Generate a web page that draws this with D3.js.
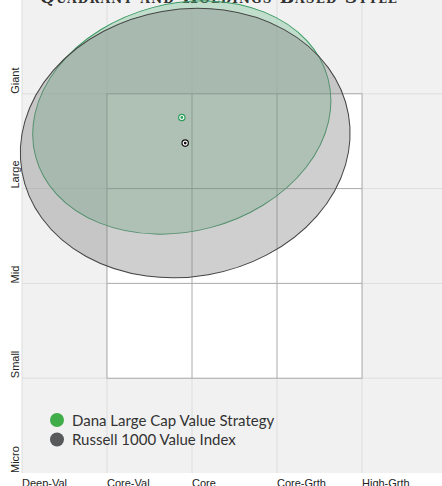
<!DOCTYPE html>
<html>
<head>
<meta charset="utf-8">
<script src="https://cdn.jsdelivr.net/npm/d3@7"></script>
<style>
  body { margin: 0; background: #fff; }
  svg { display: block; }
</style>
</head>
<body>
<div id="viz"></div>
<script>
var styleLabels = ["Deep-Val", "Core-Val", "Core", "Core-Grth", "High-Grth"];
var sizeLabels = ["Micro", "Small", "Mid", "Large", "Giant"];

var seriesNames = ["Dana Large Cap Value Strategy", "Russell 1000 Value Index"];
var seriesColors = ["#41ad49", "#58595b"];
// centroid (style, size) and dispersion ellipse (radii in axis units, tilt in degrees)
var centerStyle = [1.88, 1.92];
var centerSize = [3.75, 3.48];
var ellipseRx = [1.78, 1.95];
var ellipseRy = [1.20, 1.41];
var ellipseTilt = [-15, -10];

var width = 442, height = 486;

var svg = d3.select("#viz")
    .append("svg")
    .attr("width", width)
    .attr("height", height);

var x = d3.scaleLinear().domain([0, 5]).range([22, 447]);
var y = d3.scaleLinear().domain([0, 5]).range([473, -1]);

// plot background
svg.append("rect")
    .attr("x", x(0)).attr("y", 0)
    .attr("width", width - x(0)).attr("height", y(0))
    .attr("fill", "#f1f1f1");

// light background grid
svg.append("g").selectAll("line")
    .data(d3.range(0, 5))
    .join("line")
    .attr("x1", d => x(d)).attr("x2", d => x(d))
    .attr("y1", 0).attr("y2", y(0))
    .attr("stroke", "#dddddd");
svg.append("g").selectAll("line")
    .data(d3.range(1, 5))
    .join("line")
    .attr("x1", x(0)).attr("x2", width)
    .attr("y1", d => y(d)).attr("y2", d => y(d))
    .attr("stroke", "#dddddd");

// white style box (Core-Val..Core-Grth, Small..Large)
svg.append("rect")
    .attr("x", x(1)).attr("y", y(4))
    .attr("width", x(4) - x(1)).attr("height", y(1) - y(4))
    .attr("fill", "#fff")
    .attr("stroke", "#aaaaaa");
svg.append("g").selectAll("line")
    .data([2, 3])
    .join("line")
    .attr("x1", d => x(d)).attr("x2", d => x(d))
    .attr("y1", y(4)).attr("y2", y(1))
    .attr("stroke", "#aaaaaa");
svg.append("g").selectAll("line")
    .data([2, 3])
    .join("line")
    .attr("x1", x(1)).attr("x2", x(4))
    .attr("y1", d => y(d)).attr("y2", d => y(d))
    .attr("stroke", "#aaaaaa");

// title, mostly cut off at the top
svg.append("text")
    .attr("x", 40).attr("y", 3)
    .attr("textLength", 357)
    .attr("font-family", "DejaVu Serif")
    .attr("font-weight", "bold")
    .attr("font-size", 17)
    .attr("font-variant", "small-caps")
    .attr("fill", "#333")
    .text("Quadrant and Holdings Based Style");

// ellipses
var fills = ["#5eb880", "#808080"];
var opac = [0.32, 0.38];
var strokes = ["#3a9a63", "#444444"];
svg.append("g").selectAll("ellipse")
    .data(d3.range(seriesNames.length))
    .join("ellipse")
    .attr("transform", i => "translate(" + x(centerStyle[i]) + "," + y(centerSize[i]) + ") rotate(" + ellipseTilt[i] + ")")
    .attr("rx", i => x(ellipseRx[i]) - x(0))
    .attr("ry", i => y(0) - y(ellipseRy[i]))
    .attr("fill", i => fills[i])
    .attr("fill-opacity", i => opac[i])
    .attr("stroke", i => strokes[i])
    .attr("stroke-width", 1);

// centroid markers
var marks = svg.append("g").selectAll("g")
    .data(d3.range(seriesNames.length))
    .join("g")
    .attr("transform", i => "translate(" + x(centerStyle[i]) + "," + y(centerSize[i]) + ")");
marks.append("circle").attr("r", 3.2)
    .attr("fill", "#fff")
    .attr("stroke", i => i == 0 ? "#2e9e5b" : "#111")
    .attr("stroke-width", 1.2);
marks.append("circle").attr("r", 1.4)
    .attr("fill", i => i == 0 ? "#2e9e5b" : "#111");

// axis labels
svg.append("g").selectAll("text")
    .data(styleLabels)
    .join("text")
    .attr("x", (d, i) => x(i))
    .attr("y", 487)
    .attr("font-family", "Liberation Sans, Arial")
    .attr("font-size", 11)
    .attr("fill", "#222")
    .text(d => d);

svg.append("g").selectAll("text")
    .data(sizeLabels)
    .join("text")
    .attr("transform", (d, i) => "translate(19," + y(i) + ") rotate(-90)")
    .attr("font-family", "Liberation Sans, Arial")
    .attr("font-size", 11)
    .attr("fill", "#222")
    .text(d => d);

// legend
var legend = svg.append("g").selectAll("g")
    .data(seriesNames)
    .join("g")
    .attr("transform", (d, i) => "translate(57," + (420 + i * 19.5) + ")");
legend.append("circle").attr("r", 7)
    .attr("fill", (d, i) => seriesColors[i]);
legend.append("text")
    .attr("x", 15).attr("y", 5.5)
    .attr("font-family", "Lato")
    .attr("font-size", 15)
    .attr("fill", "#333")
    .text(d => d);
</script>
</body>
</html>
